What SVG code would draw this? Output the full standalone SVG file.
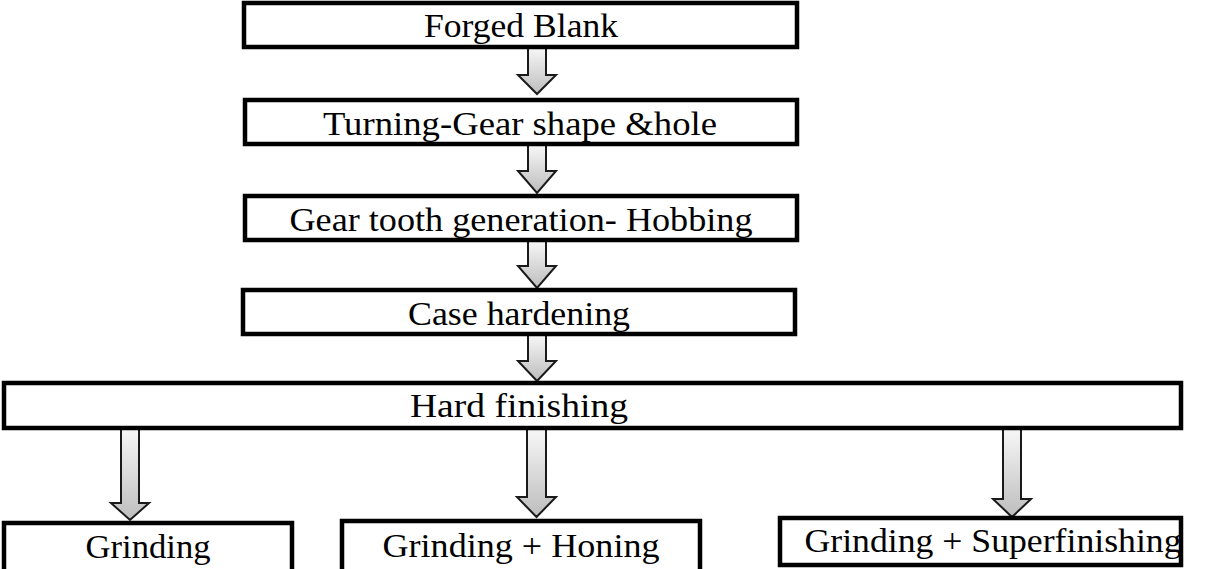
<svg xmlns="http://www.w3.org/2000/svg" width="1213" height="569" viewBox="0 0 1213 569">
<style>
.box{fill:#fff;stroke:#000;stroke-width:4.5}
.lbl{font-family:"Liberation Serif","Times New Roman",serif;font-size:33.5px;fill:#000;text-anchor:middle}
.arr{fill:url(#g);stroke:#1a1a1a;stroke-width:2;stroke-linejoin:miter}
</style>
<defs>
<linearGradient id="g" x1="0" y1="0" x2="0" y2="1">
<stop offset="0" stop-color="#f7f7f7"/>
<stop offset="1" stop-color="#bdbdbd"/>
</linearGradient>
</defs>
<rect width="1213" height="569" fill="#fff"/>
<g id="connectors">
<path class="arr" d="M528,48 H546 V75 H556 L537,94 L518,75 H528 Z"/>
<path class="arr" d="M528,145 H546 V171 H556 L537,193 L518,171 H528 Z"/>
<path class="arr" d="M528,241 H546 V266 H556 L537,288 L518,266 H528 Z"/>
<path class="arr" d="M528,335 H546 V361 H556 L537,381 L518,361 H528 Z"/>
<path class="arr" d="M121,429 H139 V503 H149 L130,520 L111,503 H121 Z"/>
<path class="arr" d="M527,429 H546 V497 H556 L536.5,517 L517,497 H527 Z"/>
<path class="arr" d="M1003,429 H1021 V499 H1031 L1012,517 L993,499 H1003 Z"/>
</g>
<g id="forged-blank">
<rect class="box" x="244" y="3" width="553" height="44"/>
<text class="lbl" x="521" y="37" textLength="194" lengthAdjust="spacingAndGlyphs">Forged Blank</text>
</g>
<g id="turning">
<rect class="box" x="245" y="100" width="552" height="44"/>
<text class="lbl" x="520" y="135" textLength="394" lengthAdjust="spacingAndGlyphs">Turning-Gear shape &amp;hole</text>
</g>
<g id="hobbing">
<rect class="box" x="245" y="196" width="552" height="44"/>
<text class="lbl" x="521" y="231" textLength="463" lengthAdjust="spacingAndGlyphs">Gear tooth generation- Hobbing</text>
</g>
<g id="case-hardening">
<rect class="box" x="243" y="290" width="552" height="44"/>
<text class="lbl" x="519" y="325" textLength="222" lengthAdjust="spacingAndGlyphs">Case hardening</text>
</g>
<g id="hard-finishing">
<rect class="box" x="4" y="383" width="1177" height="45"/>
<text class="lbl" x="519" y="417" textLength="218" lengthAdjust="spacingAndGlyphs">Hard finishing</text>
</g>
<g id="grinding">
<rect class="box" x="4" y="523" width="288" height="52"/>
<text class="lbl" x="148" y="558" textLength="125" lengthAdjust="spacingAndGlyphs">Grinding</text>
</g>
<g id="grinding-honing">
<rect class="box" x="342" y="521" width="358" height="54"/>
<text class="lbl" x="521" y="557" textLength="277" lengthAdjust="spacingAndGlyphs">Grinding + Honing</text>
</g>
<g id="grinding-superfinishing">
<rect class="box" x="780" y="518" width="401" height="47"/>
<text class="lbl" x="993" y="552" textLength="377" lengthAdjust="spacingAndGlyphs">Grinding + Superfinishing</text>
</g>
</svg>
